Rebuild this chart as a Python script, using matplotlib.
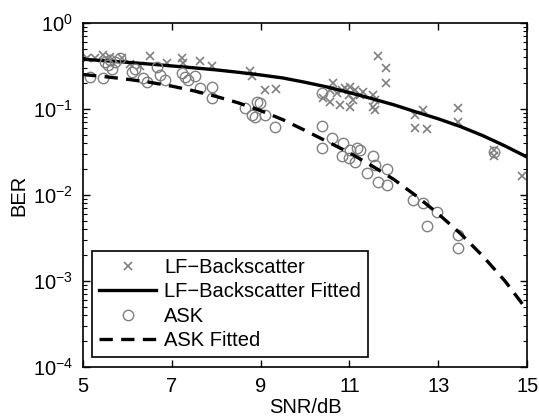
import numpy as np
import matplotlib
matplotlib.use('Agg')
import matplotlib.pyplot as plt
from matplotlib.ticker import LogLocator, FixedLocator, NullFormatter

plt.rcParams['font.family'] = ['Liberation Sans', 'DejaVu Sans']
plt.rcParams['mathtext.fontset'] = 'custom'
plt.rcParams['mathtext.rm'] = 'Liberation Sans'
plt.rcParams['mathtext.it'] = 'Liberation Sans:italic'

# measured points (SNR in dB, BER)
lf_snr = [5.08, 5.27, 5.46, 5.61, 5.87, 6.06, 6.28, 6.51, 6.89, 7.22, 7.26, 7.64, 7.90,
          8.76, 8.80, 9.10, 9.35, 10.41, 10.56, 10.56, 10.64, 10.72, 10.79, 10.83, 10.90,
          10.98, 11.01, 11.01, 11.09, 11.13, 11.24, 11.31, 11.54, 11.54, 11.58, 11.58,
          11.65, 11.82, 11.82, 12.48, 12.48, 12.66, 12.74, 13.45, 13.45, 14.26, 14.26, 14.88]
lf_ber = [0.389, 0.39, 0.424, 0.406, 0.389, 0.33, 0.316, 0.413, 0.345, 0.389, 0.345, 0.365, 0.316,
          0.279, 0.242, 0.166, 0.169, 0.133, 0.122, 0.166, 0.199, 0.154, 0.111, 0.166, 0.175,
          0.146, 0.106, 0.180, 0.127, 0.166, 0.146, 0.158, 0.146, 0.106, 0.127, 0.097,
          0.413, 0.297, 0.199, 0.085, 0.060, 0.097, 0.058, 0.102, 0.071, 0.033, 0.028, 0.0166]

ask_snr = [5.16, 5.46, 5.50, 5.57, 5.61, 5.65, 5.72, 5.83, 6.10, 6.17, 6.36, 6.43, 6.66, 6.73,
           6.85, 7.22, 7.30, 7.37, 7.52, 7.64, 7.90, 7.90, 8.65, 8.80, 8.87, 8.91, 8.99, 9.10,
           9.32, 10.38, 10.38, 10.38, 10.60, 10.83, 10.86, 10.98, 11.01, 11.13, 11.16, 11.24,
           11.39, 11.54, 11.58, 11.65, 11.84, 11.84, 12.44, 12.66, 12.74, 12.97, 13.45, 13.45, 14.26]
ask_ber = [0.238, 0.228, 0.352, 0.325, 0.371, 0.29, 0.352, 0.389, 0.272, 0.29, 0.228, 0.208, 0.305, 0.249,
           0.217, 0.26, 0.238, 0.217, 0.242, 0.174, 0.182, 0.133, 0.102, 0.085, 0.081, 0.122, 0.116, 0.085,
           0.061, 0.152, 0.063, 0.035, 0.046, 0.028, 0.040, 0.027, 0.033, 0.024, 0.035, 0.033,
           0.018, 0.028, 0.022, 0.0143, 0.020, 0.0131, 0.0087, 0.0080, 0.0044, 0.0064, 0.0034, 0.0024, 0.032]

# fitted curves (log10 BER every 0.5 dB)
fit_snr = [5, 5.5, 6, 6.5, 7, 7.5, 8, 8.5, 9, 9.5, 10, 10.5, 11, 11.5, 12, 12.5, 13, 13.5, 14, 14.5, 15]
lf_fit_log = [-0.422, -0.440, -0.458, -0.478, -0.500, -0.522, -0.546, -0.574, -0.605, -0.640, -0.69,
              -0.745, -0.81, -0.88, -0.952, -1.035, -1.115, -1.205, -1.31, -1.43, -1.56]
ask_fit_log = [-0.60, -0.625, -0.655, -0.69, -0.735, -0.79, -0.855, -0.93, -1.02, -1.125, -1.25,
               -1.38, -1.51, -1.66, -1.82, -2.01, -2.22, -2.45, -2.71, -3.00, -3.34]

grey = '#808080'
fs = 14.5

fig = plt.figure(figsize=(5.39, 4.17), dpi=100)
ax = fig.add_axes([0.154, 0.120, 0.824, 0.825])

ax.plot(lf_snr, lf_ber, 'x', color=grey, markersize=6, markeredgewidth=1.2, label='LF\u2212Backscatter')
ax.plot(fit_snr, 10 ** np.array(lf_fit_log), '-', color='black', linewidth=2.4, label='LF\u2212Backscatter Fitted')
ax.plot(ask_snr, ask_ber, 'o', color=grey, markerfacecolor='none', markersize=7.5, markeredgewidth=1.0, label='ASK')
ax.plot(fit_snr, 10 ** np.array(ask_fit_log), color='black', linewidth=2.4, linestyle=(0, (4, 2.5)), label='ASK Fitted')

ax.set_yscale('log')
ax.set_xlim(5, 15)
ax.set_ylim(1e-4, 1)
ax.xaxis.set_major_locator(FixedLocator([5, 7, 9, 11, 13, 15]))
ax.yaxis.set_minor_locator(LogLocator(base=10, subs=np.arange(2, 10), numticks=10))
ax.yaxis.set_minor_formatter(NullFormatter())
ax.set_yticks([1e-4, 1e-3, 1e-2, 1e-1, 1])
ax.set_yticklabels([r'$10^{-4}$', r'$10^{-3}$', r'$10^{-2}$', r'$10^{-1}$', r'$10^{0}$'])

ax.tick_params(which='both', direction='in', top=True, right=True, labelsize=fs)
ax.tick_params(which='major', length=5, width=1)
ax.tick_params(which='minor', length=3, width=0.8)
ax.tick_params(axis='x', pad=7)
ax.tick_params(axis='y', pad=7)
for s in ax.spines.values():
    s.set_linewidth(1.2)

ax.set_xlabel('SNR/dB', fontsize=fs, labelpad=2)
ax.set_ylabel('BER', fontsize=fs, labelpad=3)

leg = ax.legend(loc='lower left', bbox_to_anchor=(0.02, 0.029), borderaxespad=0, fontsize=fs,
                fancybox=False, edgecolor='black', framealpha=1, handlelength=2.85,
                handletextpad=0.4, labelspacing=0.26, borderpad=0.35)
leg.get_frame().set_linewidth(1.2)

fig.savefig('out.png', dpi=100)
